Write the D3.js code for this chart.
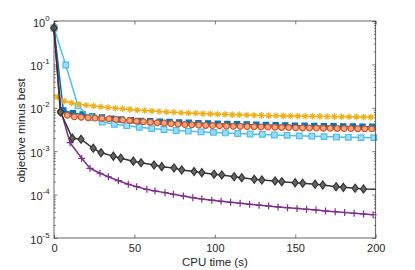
<!DOCTYPE html>
<html><head><meta charset="utf-8">
<script src="https://cdn.jsdelivr.net/npm/d3@7"></script>
<style>
body{margin:0;background:#fff}
text{font-family:"Liberation Sans",Arial,Helvetica,sans-serif;fill:#262626}
</style>
</head><body>
<svg id="chart" width="415" height="270"></svg>
<script>
// ---------- data ----------
const xTicks = [0, 50, 100, 150, 200];
const yTickExps = [0, -1, -2, -3, -4, -5];
const xLabel = "CPU time (s)";
const yLabel = "objective minus best";

const tBlue = [0, 5.8, 11.8, 17.8, 23.8, 29.8, 35.8, 41.8, 47.8, 53.8, 59.8, 65.8, 71.8, 77.8, 83.8, 89.8, 95.8, 101.8, 107.8, 113.8, 119.8, 125.8, 131.8, 137.8, 143.8, 149.8, 155.8, 161.8, 167.8, 173.8, 179.8, 185.8, 191.8, 197.8];
const vBlue = [0.69, 0.00867, 0.00747, 0.00701, 0.00630, 0.00598, 0.00561, 0.00538, 0.00518, 0.00501, 0.00488, 0.00478, 0.00471, 0.00461, 0.00451, 0.00444, 0.00437, 0.00430, 0.00424, 0.00417, 0.00412, 0.00406, 0.00402, 0.00397, 0.00393, 0.00389, 0.00385, 0.00383, 0.00379, 0.00377, 0.00373, 0.00371, 0.00367, 0.00365];

const tLightBlue = [0, 7.3, 14.9, 22.4, 30.0, 37.5, 45.2, 53.0, 60.8, 68.4, 75.9, 83.5, 91.4, 99.1, 106.5, 114.2, 121.9, 129.5, 137.0, 144.9, 152.5, 160.3, 167.9, 175.6, 183.0, 190.9, 198.8];
const vLightBlue = [0.69, 0.0969, 0.01118, 0.00591, 0.00471, 0.00417, 0.00387, 0.00356, 0.00333, 0.00316, 0.00300, 0.00289, 0.00280, 0.00271, 0.00263, 0.00256, 0.00249, 0.00244, 0.00236, 0.00231, 0.00226, 0.00222, 0.00217, 0.00212, 0.00209, 0.00206, 0.00205];

const tOrange = [0, 4.0, 8.3, 12.6, 16.9, 21.2, 25.5, 29.8, 34.1, 38.4, 42.7, 47.0, 51.3, 55.6, 59.9, 64.2, 68.5, 72.8, 77.1, 81.4, 85.7, 90.0, 94.3, 98.6, 102.9, 107.2, 111.5, 115.8, 120.1, 124.4, 128.7, 133.0, 137.3, 141.6, 145.9, 150.2, 154.5, 158.8, 163.1, 167.4, 171.7, 176.0, 180.3, 184.6, 188.9, 193.2, 197.5];
const vOrange = [0.69, 0.00800, 0.00672, 0.00621, 0.00607, 0.00591, 0.00579, 0.00567, 0.00555, 0.00541, 0.00526, 0.00510, 0.00491, 0.00478, 0.00466, 0.00454, 0.00444, 0.00430, 0.00421, 0.00412, 0.00406, 0.00399, 0.00393, 0.00389, 0.00383, 0.00379, 0.00375, 0.00373, 0.00369, 0.00367, 0.00363, 0.00359, 0.00356, 0.00353, 0.00350, 0.00346, 0.00344, 0.00343, 0.00341, 0.00339, 0.00337, 0.00335, 0.00333, 0.00332, 0.00330, 0.00328, 0.00327];

const tYellow = [1.9, 6.4, 10.9, 15.5, 20.0, 24.6, 29.1, 33.6, 38.2, 42.7, 47.2, 51.8, 56.3, 60.9, 65.4, 69.9, 74.5, 79.0, 83.6, 88.1, 92.6, 97.2, 101.7, 106.3, 110.8, 115.3, 119.9, 124.4, 129.0, 133.5, 138.0, 142.6, 147.1, 151.6, 156.2, 160.7, 165.3, 169.8, 174.3, 178.9, 183.4, 188.0, 192.5, 197.0];
const vYellow = [0.01774, 0.01435, 0.01291, 0.01211, 0.01148, 0.01100, 0.01054, 0.01016, 0.00979, 0.00948, 0.00918, 0.00890, 0.00867, 0.00844, 0.00822, 0.00800, 0.00787, 0.00771, 0.00759, 0.00747, 0.00735, 0.00723, 0.00712, 0.00705, 0.00697, 0.00690, 0.00682, 0.00675, 0.00668, 0.00661, 0.00657, 0.00650, 0.00647, 0.00644, 0.00640, 0.00637, 0.00633, 0.00630, 0.00627, 0.00624, 0.00621, 0.00617, 0.00614, 0.00611];

const tPurple = [0, 4.3, 10.0, 17.2, 22.4, 28.6, 33.8, 40.0, 46.2, 51.4, 57.7, 62.8, 69.0, 74.2, 80.4, 86.3, 91.9, 98.1, 103.9, 109.8, 115.7, 121.6, 127.5, 133.4, 139.3, 145.2, 151.1, 157.0, 162.9, 168.8, 174.8, 180.7, 186.6, 192.5, 198.4];
const vPurple = [0.69, 0.0085, 1.57e-3, 6.86e-4, 4.04e-4, 3.10e-4, 2.58e-4, 2.09e-4, 1.73e-4, 1.52e-4, 1.32e-4, 1.21e-4, 1.11e-4, 1.02e-4, 9.29e-5, 8.49e-5, 7.92e-5, 7.43e-5, 7.01e-5, 6.65e-5, 6.31e-5, 5.98e-5, 5.70e-5, 5.43e-5, 5.21e-5, 4.99e-5, 4.79e-5, 4.59e-5, 4.40e-5, 4.21e-5, 4.04e-5, 3.87e-5, 3.71e-5, 3.57e-5, 3.43e-5];

const tBlack = [0, 4, 11.4, 16.8, 24.4, 29.2, 36.9, 41.5, 49.3, 54.1, 62.2, 67, 74.6, 79.4, 87.1, 91.9, 99.5, 104.3, 112, 116.7, 124.5, 129.2, 137.4, 141.6, 149.9, 154.6, 162.3, 167.1, 175.4, 179.9, 187.2, 192.4, 200];
const vBlack = [0.69, 0.0080, 0.0020, 0.00188, 0.00117, 0.00092, 0.00077, 0.00069, 0.00059, 0.00054, 0.00048, 0.00044, 0.00041, 0.00037, 0.00034, 0.00032, 0.000294, 0.000283, 0.000258, 0.000245, 0.000225, 0.000217, 0.000206, 0.000198, 0.000188, 0.000182, 0.000173, 0.000166, 0.000152, 0.000147, 0.00014, 0.000135, 0.000132];

// ---------- layout ----------
const L = 54, R = 375.7, T = 21, B = 238;
const svg = d3.select("#chart");
const x = d3.scaleLinear().domain([0, 200]).range([L, R]);
const y = d3.scaleLog().domain([1e-5, 1]).range([B, T]);

const markers = {
  square: s => `M${-s},${-s}H${s}V${s}H${-s}Z`,
  circle: s => `M${s},0A${s},${s} 0 1,1 ${-s},0A${s},${s} 0 1,1 ${s},0Z`,
  diamond: s => `M0,${-s*1.35}L${s},0L0,${s*1.35}L${-s},0Z`,
  plus: s => `M${-s},0H${s}M0,${-s}V${s}`,
  star: s => { const d = s*0.72; return `M${-s},0H${s}M0,${-s}V${s}M${-d},${-d}L${d},${d}M${-d},${d}L${d},${-d}`; }
};

const series = [
  {t: tBlue, v: vBlue, color: "#0072BD", marker: "square", size: 2.6, fill: "#0072BD", lastMarker: true},
  {t: tLightBlue, v: vLightBlue, color: "#4DBEEE", marker: "square", size: 2.8, fill: "#9fdcf6", lastMarker: true},
  {t: tOrange, v: vOrange, color: "#D95319", marker: "circle", size: 2.9, fill: "#eda78a", lastMarker: true},
  {t: tYellow, v: vYellow, color: "#EDB120", marker: "star", size: 3.3, fill: "none", lastMarker: true},
  {t: tPurple, v: vPurple, color: "#7E2F8E", marker: "plus", size: 3.5, fill: "none", lastMarker: true},
  {t: tBlack, v: vBlack, color: "#333333", marker: "diamond", size: 3.0, fill: "#666666", lastMarker: false}
];

const gAx = svg.append("g");
const axisColor = "#262626";

const xb = d3.axisBottom(x).tickValues(xTicks).tickSizeInner(-3.5).tickSizeOuter(0).tickPadding(6);
const gx = gAx.append("g").attr("transform", `translate(0,${B})`).call(xb);
gx.select(".domain").remove();
gx.selectAll("text").attr("font-size", 11).style("font-family", '"Liberation Sans",Arial,sans-serif').attr("fill", "#262626");

const xt = d3.axisTop(x).tickValues(xTicks).tickSizeInner(-3.5).tickSizeOuter(0).tickFormat("");
const gxt = gAx.append("g").attr("transform", `translate(0,${T})`).call(xt);
gxt.select(".domain").remove();

const majors = yTickExps.map(e => Math.pow(10, e));
const minors = [];
yTickExps.slice(1).forEach(e => { for (let m = 2; m <= 9; m++) minors.push(m * Math.pow(10, e)); });

const yl = d3.axisLeft(y).tickValues(majors).tickSizeInner(-3.5).tickSizeOuter(0).tickFormat("");
gAx.append("g").attr("transform", `translate(${L},0)`).call(yl).select(".domain").remove();
const ylm = d3.axisLeft(y).tickValues(minors).tickSizeInner(-1.8).tickSizeOuter(0).tickFormat("");
gAx.append("g").attr("transform", `translate(${L},0)`).call(ylm).select(".domain").remove();
const yr = d3.axisRight(y).tickValues(majors).tickSizeInner(-3.5).tickSizeOuter(0).tickFormat("");
gAx.append("g").attr("transform", `translate(${R},0)`).call(yr).select(".domain").remove();
const yrm = d3.axisRight(y).tickValues(minors).tickSizeInner(-1.8).tickSizeOuter(0).tickFormat("");
gAx.append("g").attr("transform", `translate(${R},0)`).call(yrm).select(".domain").remove();
gAx.selectAll("line").attr("stroke", axisColor).attr("stroke-width", 0.6);

const ylab = svg.append("g");
yTickExps.forEach(e => {
  const yy = y(Math.pow(10, e));
  const t = ylab.append("text").attr("x", 49.5).attr("y", yy + 5.5).attr("text-anchor", "end").attr("font-size", 11);
  t.append("tspan").text("10");
  t.append("tspan").attr("dy", -6).attr("font-size", 7.8).text(String(e));
});

const gPlot = svg.append("g");
const line = d3.line().x(d => x(d[0])).y(d => y(d[1]));

series.forEach(s => {
  const pts = d3.range(Math.min(s.t.length, s.v.length)).map(i => [s.t[i], s.v[i]]);
  const g = gPlot.append("g");
  g.append("path").attr("d", line(pts)).attr("fill", "none").attr("stroke", s.color)
    .attr("stroke-width", 1.5).attr("stroke-linejoin", "round");
  const mp = s.lastMarker ? pts : pts.slice(0, -1);
  g.selectAll("path.m").data(mp).enter().append("path").attr("class", "m")
    .attr("transform", d => `translate(${x(d[0])},${y(d[1])})`)
    .attr("d", markers[s.marker](s.size))
    .attr("fill", s.fill).attr("stroke", s.color).attr("stroke-width", 1.2);
});

svg.append("rect").attr("x", L).attr("y", T).attr("width", R - L).attr("height", B - T)
  .attr("fill", "none").attr("stroke", axisColor).attr("stroke-width", 0.7);

svg.append("text").attr("x", (L + R) / 2).attr("y", 266).attr("text-anchor", "middle")
  .attr("font-size", 11.5).text(xLabel);
svg.append("text").attr("transform", `translate(24.5,${(T + B) / 2 + 1}) rotate(-90)`)
  .attr("text-anchor", "middle").attr("font-size", 11.5).text(yLabel);
</script>
</body></html>
